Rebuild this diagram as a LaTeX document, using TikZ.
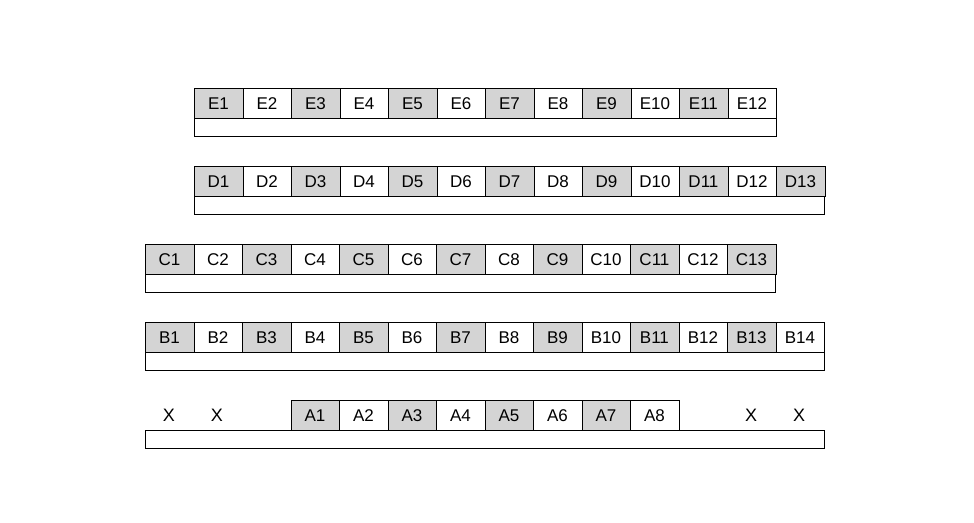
\documentclass[tikz,border=0pt]{standalone}
\usepackage{fontspec}
\setmainfont{Liberation Sans}
\begin{document}
\begin{tikzpicture}[x=1pt,y=-1pt,
  cell/.style={draw,minimum width=48.5pt,minimum height=30pt,inner sep=0pt,
    text height=12pt,text depth=0pt,font=\fontsize{17}{17}\selectfont},
  odd/.style={cell,fill=black!17},
  even/.style={cell,fill=white},
  bar/.style={draw,fill=white},
  xmark/.style={font=\fontsize{18}{18}\selectfont}]
  \useasboundingbox (0,0) rectangle (974,522);
  % rows: letter / top / left / cells
  \foreach \r/\y/\x/\n in {E/88/194/12,D/166/194/13,C/244/145/13,B/322/145/14}{
    \foreach \i in {1,...,\n}{
      \pgfmathsetmacro\st{isodd(\i) ? "odd" : "even"}
      \node[\st,anchor=north west] (\r\i) at ({\x+(\i-1)*48.5},\y) {\r\i};
    }
    \draw[bar] (\r1.south west) rectangle ++({\n*48.5},18);
  }
  % bottom row
  \foreach \i in {1,...,8}{
    \pgfmathsetmacro\st{isodd(\i) ? "odd" : "even"}
    \node[\st,anchor=north west] (A\i) at ({290.5+(\i-1)*48.5},400) {A\i};
  }
  \coordinate (abar) at (145,430);
  \draw[bar] (abar) rectangle ++(679,18);
  \node[xmark] (x1) at (169,415) {X};
  \node[xmark] (x2) at (217,415) {X};
  \node[xmark] (x3) at (751,415) {X};
  \node[xmark] (x4) at (799,415) {X};
\end{tikzpicture}
\end{document}
